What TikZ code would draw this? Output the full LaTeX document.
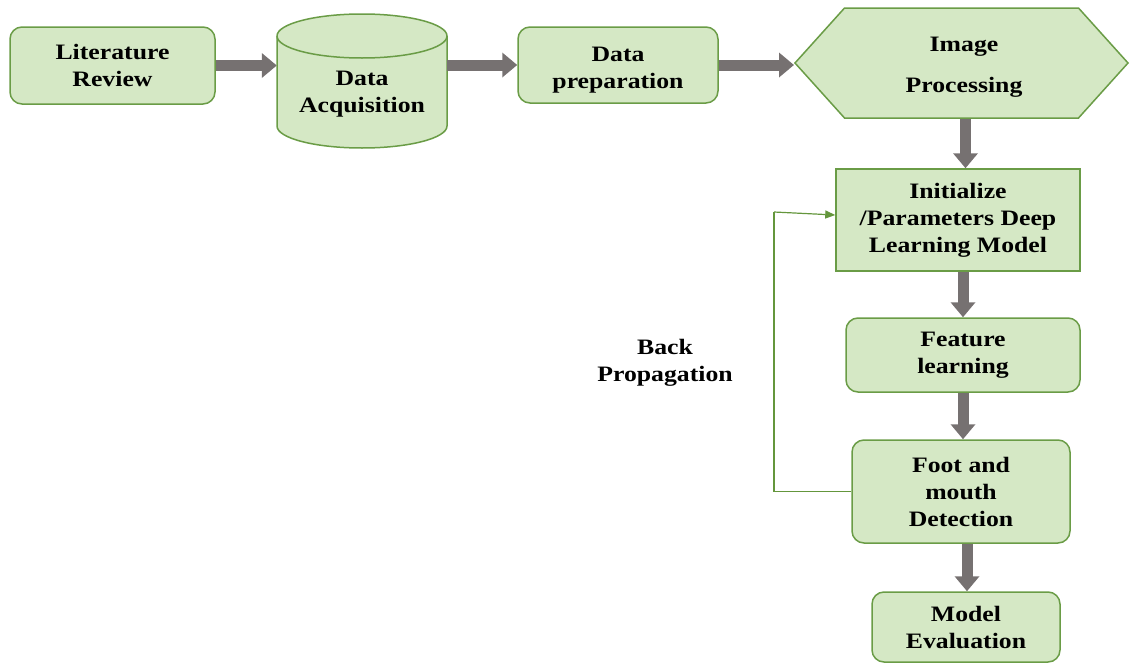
\documentclass[tikz,border=0pt]{standalone}
\usepackage{fontspec}
\setmainfont{Liberation Serif}[FakeStretch=1.17]
\usetikzlibrary{arrows.meta,shapes.symbols}

\definecolor{boxfill}{RGB}{213,232,197}
\definecolor{boxedge}{RGB}{106,156,70}
\definecolor{flowgray}{RGB}{118,113,113}
\definecolor{loopgreen}{RGB}{100,150,60}

\begin{document}
\begin{tikzpicture}[x=1pt,y=1pt,
  every node/.style={font=\fontsize{22}{27}\selectfont\bfseries, align=center, inner sep=0pt},
  stepbox/.style={draw=boxedge, fill=boxfill, line width=1.5pt, rounded corners=12pt},
  plainbox/.style={draw=boxedge, fill=boxfill, line width=1.5pt},
  flow/.style={draw=flowgray, line width=11pt, -{Triangle[width=24pt,length=15pt]}},
  loop/.style={draw=loopgreen, line width=1.2pt}
]
\useasboundingbox (0,0) rectangle (1132,-664);

% process steps along the top row
\node[stepbox, minimum width=205, minimum height=77] (lit) at (112.5,-65.5) {Literature\\Review};

% data store drawn as a cylinder around an invisible anchor node
\path[fill=boxfill, draw=boxedge, line width=1.5pt]
  (277,-36) -- (277,-126) arc (180:360:85 and 22) -- (447,-36) arc (0:180:85 and 22) -- cycle;
\draw[boxedge, line width=1.5pt] (277,-36) arc (180:360:85 and 22);
\node[minimum width=170, minimum height=134] (acq) at (362,-81) {};
\node at (362,-94) {Data\\Acquisition};

\node[stepbox, minimum width=200, minimum height=76] (prep) at (618,-65) {};
\node at (618,-70) {Data\\preparation};

\node[plainbox, shape=signal, signal to=west and east, signal pointer angle=96,
      minimum width=333, minimum height=110] (hex) at (961.5,-63) {};
\node at (964,-67) {Image\\[14pt]Processing};

% process steps down the right column
\node[plainbox, minimum width=244, minimum height=102] (init) at (958,-220)
      {Initialize\\/Parameters Deep\\Learning Model};
\node[stepbox, minimum width=234, minimum height=74] (feat) at (963,-355) {Feature\\learning};
\node[stepbox, minimum width=218, minimum height=103] (foot) at (961,-491.5) {Foot and\\mouth\\Detection};
\node[stepbox, minimum width=188, minimum height=70] (model) at (966,-627) {Model\\Evaluation};

\node (bplabel) at (665,-363) {Back\\Propagation};

% main flow
\draw[flow] (lit.east) -- (acq.west |- lit.east);
\draw[flow] (acq.east |- prep.west) -- (prep.west);
\draw[flow] (prep.east) -- (hex.west |- prep.east);
\draw[flow] ([xshift=4]hex.south) -- ([xshift=4]hex.south |- init.north);
\draw[flow] ([xshift=5]init.south) -- ([xshift=5]init.south |- feat.north);
\draw[flow] (feat.south) -- (feat.south |- foot.north);
\draw[flow] ([xshift=6]foot.south) -- ([xshift=6]foot.south |- model.north);

% feedback loop
\coordinate (bpturn) at (774,-212);
\draw[loop] (foot.west) -| (bpturn);
\draw[loop, -{Triangle[width=8pt,length=10pt]}] (bpturn) -- ([yshift=5]init.west);
\end{tikzpicture}
\end{document}
